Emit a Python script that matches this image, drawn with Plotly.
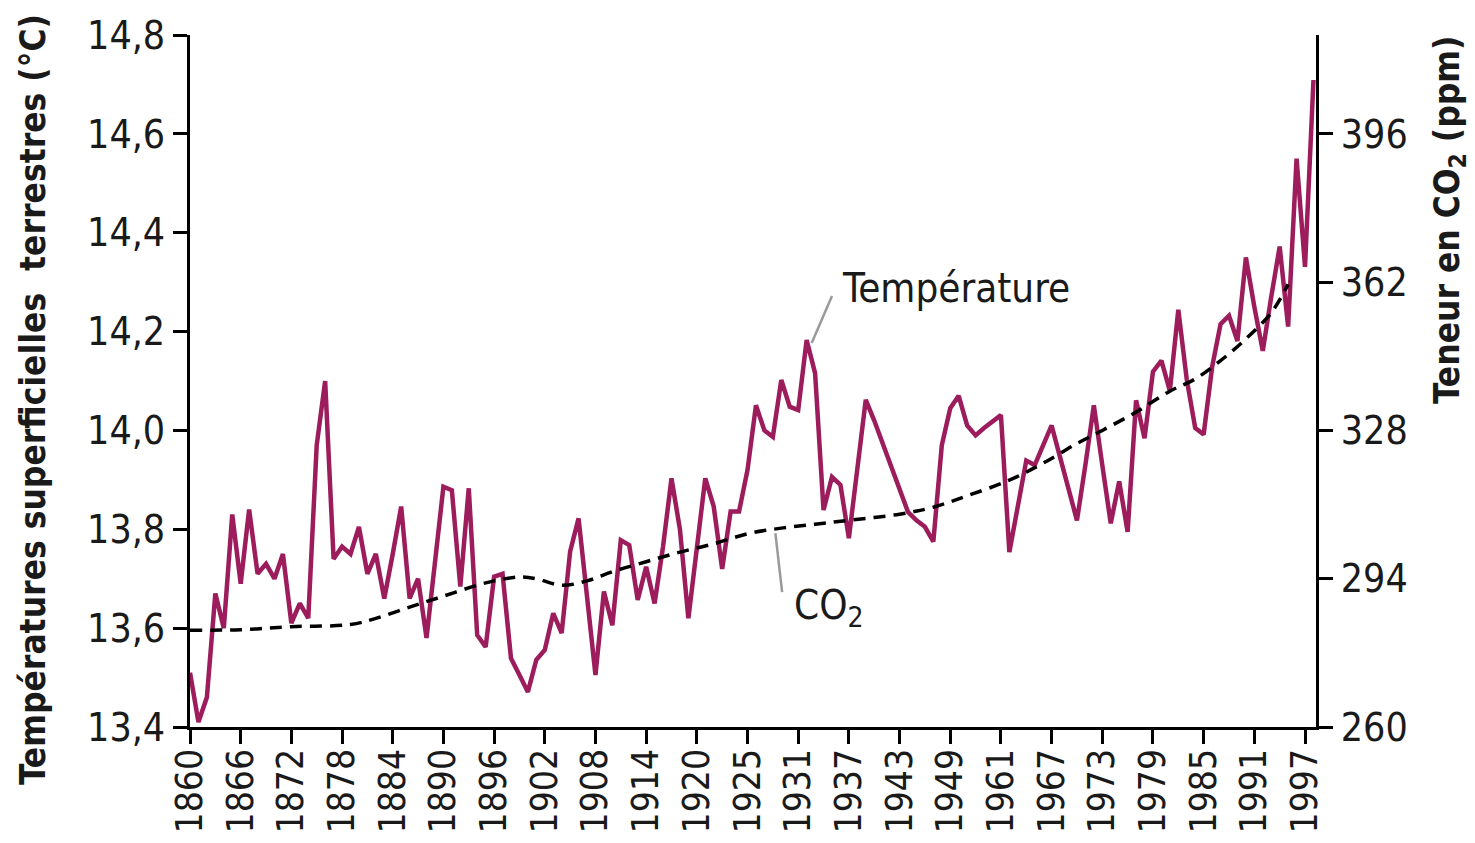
import plotly.graph_objects as go

# ---------------- data ----------------
tick_labels = ["1860", "1866", "1872", "1878", "1884", "1890", "1896", "1902",
               "1908", "1914", "1920", "1925", "1931", "1937", "1943", "1949",
               "1961", "1967", "1973", "1979", "1985", "1991", "1997"]

temperature = [
    13.51, 13.41, 13.46, 13.67, 13.60, 13.83, 13.69, 13.84, 13.71, 13.73,
    13.70, 13.75, 13.61, 13.65, 13.62, 13.97, 14.10, 13.74, 13.765, 13.75,
    13.805, 13.71, 13.75, 13.66, 13.75, 13.846, 13.66, 13.70, 13.58, 13.73,
    13.886, 13.879, 13.684, 13.883, 13.586, 13.562, 13.704, 13.71, 13.539, 13.505,
    13.471, 13.536, 13.556, 13.630, 13.590, 13.755, 13.822, 13.664, 13.505, 13.674,
    13.606, 13.778, 13.768, 13.657, 13.724, 13.650, 13.765, 13.903, 13.80, 13.62,
    13.758, 13.903, 13.846, 13.72, 13.836, 13.836, 13.92, 14.051, 14.0, 13.987,
    14.102, 14.048, 14.041, 14.183, 14.116, 13.839, 13.906, 13.890, 13.782, 13.927,
    14.062, 14.02, 13.975, 13.93, 13.885, 13.835, 13.818, 13.805, 13.775, 13.97,
    14.045, 14.07, 14.01, 13.99, 14.005, 14.017, 14.031, 13.754, 13.85, 13.939,
    13.93, 13.97, 14.01, 13.946, 13.882, 13.818, 13.93, 14.051, 13.93, 13.812,
    13.897, 13.795, 14.061, 13.984, 14.119, 14.141, 14.08, 14.244, 14.103, 14.005,
    13.992, 14.128, 14.215, 14.232, 14.181, 14.35, 14.25, 14.161, 14.27, 14.372,
    14.21, 14.55, 14.331, 14.709,
]

co2_index = [0, 6, 12, 19, 22, 26, 30, 34, 36, 39, 41, 44, 47, 50, 54, 58, 62,
             66, 70, 74, 78, 84, 88, 92, 97, 101, 105, 108, 112, 116, 119, 122,
             125, 128, 130]
co2_ppm = [282.2, 282.3, 283.0, 283.5, 284.9, 287.5, 290.0, 292.5, 293.5, 294.4,
           294.0, 292.5, 293.5, 295.6, 297.9, 300.1, 302.0, 304.3, 305.6, 306.5,
           307.4, 308.8, 310.4, 313.0, 316.6, 320.5, 325.0, 328.0, 332.2, 337.0,
           339.8, 344.0, 349.0, 355.0, 361.5]

temp_ticks = [13.4, 13.6, 13.8, 14.0, 14.2, 14.4, 14.6, 14.8]
temp_ticktext = ["13,4", "13,6", "13,8", "14,0", "14,2", "14,4", "14,6", "14,8"]
co2_ticks = [260, 294, 328, 362, 396]

# ---------------- figure ----------------
FONT = "DejaVu Sans Condensed, DejaVu Sans, sans-serif"
TEMP_COLOR = "#9C1C5C"
TXT = "#1a1a1a"

idx = list(range(len(temperature)))
tick_pos = [6 * k for k in range(len(tick_labels))]

fig = go.Figure()
fig.add_trace(go.Scatter(
    x=idx, y=temperature, mode="lines", yaxis="y",
    line=dict(color=TEMP_COLOR, width=4.5), showlegend=False, hoverinfo="skip"))
fig.add_trace(go.Scatter(
    x=co2_index, y=co2_ppm, mode="lines", yaxis="y2",
    line=dict(color="black", width=3.5, dash="12px,8px", shape="spline"),
    showlegend=False, hoverinfo="skip"))

axis_common = dict(showgrid=False, zeroline=False, showline=True,
                   linecolor="black", linewidth=3, ticks="outside",
                   tickcolor="black", tickwidth=3, ticklen=14, automargin=False)

fig.update_layout(
    width=1475, height=843,
    margin=dict(l=190, r=159, t=35, b=116, pad=0, autoexpand=False),
    paper_bgcolor="white", plot_bgcolor="white",
    xaxis=dict(range=[0, 133.3], tickmode="array", tickvals=tick_pos,
               ticktext=tick_labels, tickangle=-90, ticklabelstandoff=-10,
               tickfont=dict(family=FONT, size=37, color=TXT), **axis_common),
    yaxis=dict(range=[13.4, 14.8], tickmode="array", tickvals=temp_ticks,
               ticktext=temp_ticktext,
               tickfont=dict(family=FONT, size=39, color=TXT), **axis_common),
    yaxis2=dict(range=[260, 260 + 1.4 * 34 / 0.3], overlaying="y", side="right",
                tickmode="array", tickvals=co2_ticks,
                tickfont=dict(family=FONT, size=39, color=TXT), **axis_common),
)

fig.add_annotation(xref="paper", yref="paper", x=-0.1394, y=0.4725,
                   text="Températures superficielles  terrestres (°C)",
                   textangle=-90, showarrow=False, xanchor="center", yanchor="middle",
                   font=dict(family=FONT, size=35, color=TXT, weight="bold"))
fig.add_annotation(xref="paper", yref="paper", x=1.119, y=0.7327,
                   text="Teneur en CO<sub>2</sub> (ppm)",
                   textangle=-90, showarrow=False, xanchor="center", yanchor="middle",
                   font=dict(family=FONT, size=35, color=TXT, weight="bold"))
fig.add_annotation(xref="x", yref="y", x=76.9, y=14.288, text="Température",
                   showarrow=False, xanchor="left", yanchor="middle",
                   font=dict(family=FONT, size=40, color=TXT))
fig.add_annotation(xref="x", yref="y", x=71.3, y=13.641, text="CO<sub>2</sub>",
                   showarrow=False, xanchor="left", yanchor="middle",
                   font=dict(family=FONT, size=40, color=TXT))

fig.add_shape(type="line", xref="x", yref="y", x0=73.6, y0=14.177, x1=76.0, y1=14.272,
              line=dict(color="#9a9a9a", width=2.5))
fig.add_shape(type="line", xref="x", yref="y", x0=69.3, y0=13.792, x1=70.1, y1=13.673,
              line=dict(color="#9a9a9a", width=2.5))

fig.write_html("out.html", config={"displayModeBar": False},
               post_script="document.body.style.margin='0';")
